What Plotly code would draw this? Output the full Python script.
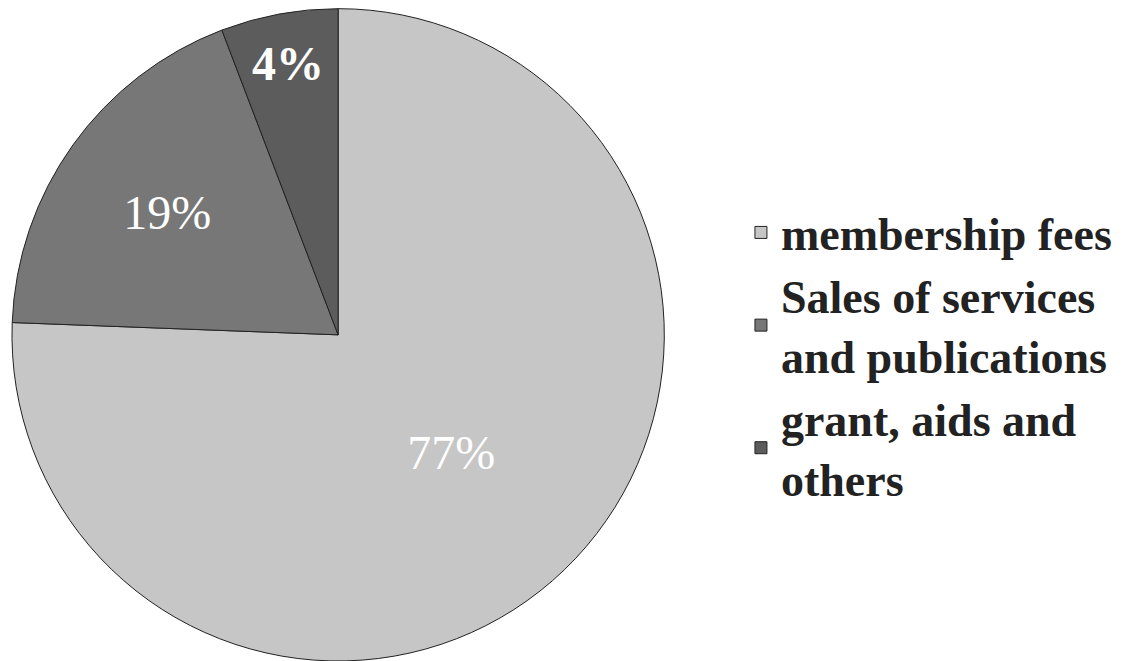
import plotly.graph_objects as go

# Valeurs (angles des parts) et étiquettes affichées
categories = ["membership fees", "Sales of services<br>and publications", "grant, aids and<br>others"]
shares = [75.6, 18.6, 5.8]
pct_labels = ["77%", "19%", "<b>4%</b>"]
colors = ["#c6c6c6", "#777777", "#5c5c5c"]

fig = go.Figure()

fig.add_trace(go.Pie(
    labels=categories,
    values=shares,
    text=pct_labels,
    texttemplate="%{text}",
    textposition="inside",
    insidetextorientation="horizontal",
    textfont=dict(family="Liberation Serif", size=48, color="white"),
    marker=dict(colors=colors, line=dict(color="#222222", width=1)),
    direction="clockwise",
    rotation=0,
    sort=False,
    domain=dict(x=[0.0027, 0.577], y=[0.0121, 0.999]),
))

fig.update_layout(
    width=1139,
    height=661,
    margin=dict(l=0, r=0, t=0, b=0),
    paper_bgcolor="white",
    plot_bgcolor="white",
    showlegend=True,
    legend=dict(
        x=0.6435, y=0.475,
        xanchor="left", yanchor="middle",
        font=dict(family="Liberation Serif", size=46, color="#222222", weight="bold"),
    ),
)

fig.write_html("out.html")
